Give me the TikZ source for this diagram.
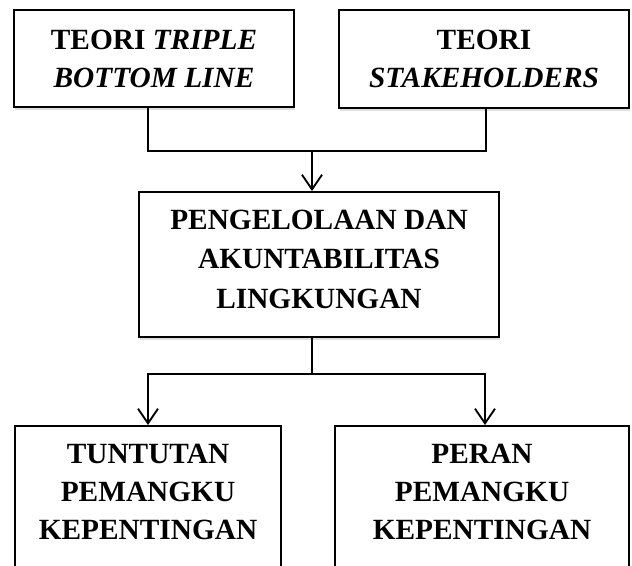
\documentclass[tikz,border=0pt]{standalone}
\usepackage{fontspec}
\setmainfont{Liberation Serif}
\usetikzlibrary{arrows.meta,shadows}

\tikzset{
    kotak/.style = {draw, line width=1.4pt, fill=white, align=center, inner sep=0pt,
        font=\bfseries\fontsize{22}{28.5}\selectfont,
        drop shadow={shadow xshift=1pt, shadow yshift=-2pt, opacity=.25}},
    garis/.style = {line width=1.4pt},
    panah/.style = {line width=1.4pt, -{Straight Barb[length=11pt,width=15pt,line width=1.4pt]}}
}

\begin{document}
\begin{tikzpicture}[x=0.75pt, y=-0.75pt]
        \clip (0,0) rectangle (632,565);
        \fill [white] (0,0) rectangle (632,565);

        % teori
        \node (teoritbl) at (154,58.5) [kotak, minimum width=210pt, minimum height=72.75pt]
            {TEORI \textit{TRIPLE}\\\textit{BOTTOM LINE}};
        \node (teoristk) at (484,59) [kotak, minimum width=217.5pt, minimum height=73.5pt]
            {TEORI\\\textit{STAKEHOLDERS}};

        % pengelolaan
        \node (pengelolaan) at (319,264.5) [kotak, minimum width=270pt, minimum height=108.75pt,
            font=\bfseries\fontsize{22}{29.5}\selectfont, text depth=8pt]
            {PENGELOLAAN DAN\\AKUNTABILITAS\\LINGKUNGAN};

        % pemangku kepentingan
        \node (tuntutan) at (148,425) [kotak, anchor = north, minimum width=199.5pt,
            inner ysep=14pt, text depth=50pt] {TUNTUTAN\\PEMANGKU\\KEPENTINGAN};
        \node (peran) at (482,425) [kotak, anchor = north, minimum width=220.5pt,
            inner ysep=14pt, text depth=50pt] {PERAN\\PEMANGKU\\KEPENTINGAN};

        \coordinate (atas) at (312,151);
        \coordinate (bawah) at (312,374);

        \draw [garis] ([xshift=-4.5pt]teoritbl.south) |- (atas) -| ([xshift=1.5pt]teoristk.south);
        \draw [panah] (atas) -- (atas |- pengelolaan.north);

        \draw [garis] (bawah |- pengelolaan.south) -- (bawah);
        \draw [panah] (bawah) -| (tuntutan.north);
        \draw [panah] (bawah) -| ([xshift=2.25pt]peran.north);
    \end{tikzpicture}
\end{document}
